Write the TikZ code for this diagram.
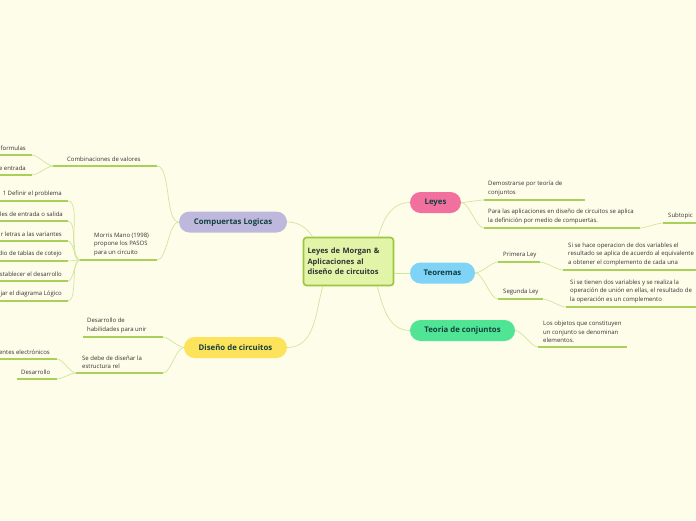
\documentclass[tikz,border=0pt]{standalone}
\usepackage{fontspec}
\setmainfont{Open Sans}
\usepackage{tikz}
\usetikzlibrary{calc}
\usepackage{xcolor}
\definecolor{paper}{HTML}{FEFDEA}
\definecolor{lingreen}{HTML}{D2E5A0}
\definecolor{ulgreen}{HTML}{A8D05A}
\definecolor{maingreen}{HTML}{9CC63F}
\definecolor{mainfill}{HTML}{E2F4A8}
\definecolor{maintext}{HTML}{333333}
\definecolor{pilltext}{HTML}{123F3F}
\definecolor{leaftext}{HTML}{333333}
\definecolor{cmpviolet}{HTML}{BEB8DC}
\definecolor{disyellow}{HTML}{FDE35B}
\definecolor{leypink}{HTML}{F2709E}
\definecolor{teoblue}{HTML}{7ED3F7}
\definecolor{conjgreen}{HTML}{50E594}
\tikzset{
    conn/.style={draw=lingreen, line width=0.7pt},
    uline/.style={draw=ulgreen, line width=1.5pt},
    pill/.style={rectangle, rounded corners=10.5pt, minimum height=21pt, inner sep=0pt,
        font=\fontsize{7.8}{9}\selectfont\bfseries, text=pilltext},
    leaf/.style={inner sep=0pt, align=left, font=\fontsize{6}{8.6}\selectfont, text=leaftext},
    rbranch/.style={out=0, in=180, looseness=0.6},
    lbranch/.style={out=180, in=0, looseness=0.6}
}

\begin{document}
\begin{tikzpicture}[x=1pt, y=-1pt]
    \fill[paper] (0,0) rectangle (696,520);
    \useasboundingbox (0,0) rectangle (696,520);

    % central topic and main branches
    \node[draw=maingreen, line width=1.6pt, fill=mainfill, rounded corners=3pt,
        minimum width=90pt, minimum height=48pt, inner sep=4pt, text width=82pt, align=left,
        font=\fontsize{7.5}{10.5}\selectfont\bfseries, text=maintext] (main) at (348.5,261.5)
        {Leyes de Morgan \&\\Aplicaciones al\\diseño de circuitos};
    \node[pill, fill=cmpviolet, minimum width=108pt] (cmp) at (233,222) {Compuertas Logicas};
    \node[pill, fill=disyellow, minimum width=103pt] (dis) at (235.5,347.5) {Diseño de circuitos};
    \node[pill, fill=leypink, minimum width=51pt] (ley) at (435.5,202.5) {Leyes};
    \node[pill, fill=teoblue, minimum width=65pt] (teo) at (442.5,273) {Teoremas};
    \node[pill, fill=conjgreen, minimum width=105pt] (conj) at (462.5,330.5) {Teoria de conjuntos};

    \draw[conn] (cmp.east) to[out=0, in=125] ($(main.north west)+(10,0)$);
    \draw[conn] ($(main.north east)+(-16,0)$) to[out=75, in=180] (ley.west);
    \draw[conn] (teo.west) -- (teo.west -| main.east);
    \draw[conn] ($(main.south east)+(-17,0)$) to[out=-75, in=180] (conj.west);
    \draw[conn] ($(main.south west)+(20,0)$) to[out=-105, in=0] (dis.east);

    % Leyes
    \coordinate (demL) at (484,200); \coordinate (demR) at (585,200);
    \coordinate (paraL) at (484,228); \coordinate (paraR) at (640,228);
    \coordinate (subL) at (663,223); \coordinate (subR) at (696,223);
    \draw[uline] (demL) -- (demR);
    \draw[uline] (paraL) -- (paraR);
    \draw[uline] (subL) -- (subR);
    \node[leaf, anchor=south west] (dem) at ($(demL)+(4,-4)$) {Demostrarse por teoría de\\conjuntos};
    \node[leaf, anchor=south west] (para) at ($(paraL)+(4,-4)$)
        {Para las aplicaciones en diseño de circuitos se aplica\\la definición por medio de compuertas.};
    \node[leaf, anchor=south west] (sub) at ($(subL)+(5,-4)$) {Subtopic};
    \draw[conn] (ley.east) to[rbranch] (demL);
    \draw[conn] (ley.east) to[rbranch] (paraL);
    \draw[conn] (paraR) to[rbranch] (subL);

    % Teoremas
    \coordinate (priL) at (498,262); \coordinate (priR) at (540,262);
    \coordinate (segL) at (498,299); \coordinate (segR) at (543,299);
    \coordinate (haceL) at (563,270); \coordinate (haceR) at (696,270);
    \coordinate (tienL) at (566,307); \coordinate (tienR) at (696,307);
    \draw[uline] (priL) -- (priR);
    \draw[uline] (segL) -- (segR);
    \draw[uline] (haceL) -- (haceR);
    \draw[uline] (tienL) -- (tienR);
    \node[leaf, anchor=south west] (pri) at ($(priL)+(5,-4)$) {Primera Ley};
    \node[leaf, anchor=south west] (seg) at ($(segL)+(5,-4)$) {Segunda Ley};
    \node[leaf, anchor=south west] (hace) at ($(haceL)+(5,-4)$)
        {Si se hace operacion de dos variables el\\resultado se aplica de acuerdo al equivalente\\a obtener el complemento de cada una};
    \node[leaf, anchor=south west] (tien) at ($(tienL)+(4,-4)$)
        {Si se tienen dos variables y se realiza la\\operación de unión en ellas, el resultado de\\la operación es un complemento};
    \draw[conn] (teo.east) to[rbranch] (priL);
    \draw[conn] (teo.east) to[rbranch] (segL);
    \draw[conn] (priR) to[rbranch] (haceL);
    \draw[conn] (segR) to[rbranch] (tienL);

    % Teoria de conjuntos
    \coordinate (objL) at (538,347); \coordinate (objR) at (627,347);
    \draw[uline] (objL) -- (objR);
    \node[leaf, anchor=south west] (obj) at ($(objL)+(5,-4)$)
        {Los objetos que constituyen\\un conjunto se denominan\\elementos.};
    \draw[conn] (conj.east) to[rbranch] (objL);

    % Compuertas Logicas
    \coordinate (combL) at (53,166); \coordinate (combR) at (157,166);
    \coordinate (formL) at (0,155); \coordinate (formR) at (32,155);
    \coordinate (entL) at (0,175); \coordinate (entR) at (32,175);
    \coordinate (morL) at (80,260); \coordinate (morR) at (157,260);
    \draw[uline] (combL) -- (combR);
    \draw[uline] (formL) -- (formR);
    \draw[uline] (entL) -- (entR);
    \draw[uline] (morL) -- (morR);
    \node[leaf, anchor=south west] (comb) at (67,162) {Combinaciones de valores};
    \node[leaf, anchor=south east] (form) at ($(formR)+(-6,-4)$) {formulas};
    \node[leaf, anchor=south east] (ent) at ($(entR)+(-6,-4)$) {e entrada};
    \node[leaf, anchor=south west] (mor) at ($(morL)+(14,-4)$) {Morris Mano (1998)\\propone los PASOS\\para un circuito};
    \draw[conn] (cmp.west) to[lbranch] (combR);
    \draw[conn] (cmp.west) to[lbranch] (morR);
    \draw[conn] (combL) to[lbranch] (formR);
    \draw[conn] (combL) to[lbranch] (entR);

    \coordinate (pa1L) at (0,201); \coordinate (pa1R) at (68,201);
    \coordinate (pa2L) at (0,221); \coordinate (pa2R) at (68,221);
    \coordinate (pa3L) at (0,241); \coordinate (pa3R) at (68,241);
    \coordinate (pa4L) at (0,261); \coordinate (pa4R) at (68,261);
    \coordinate (pa5L) at (0,281); \coordinate (pa5R) at (68,281);
    \coordinate (pa6L) at (0,301); \coordinate (pa6R) at (68,301);
    \draw[uline] (pa1L) -- (pa1R);
    \draw[uline] (pa2L) -- (pa2R);
    \draw[uline] (pa3L) -- (pa3R);
    \draw[uline] (pa4L) -- (pa4R);
    \draw[uline] (pa5L) -- (pa5R);
    \draw[uline] (pa6L) -- (pa6R);
    \node[leaf, anchor=south east] (pa1) at ($(pa1R)+(-6,-4)$) {1 Definir el problema};
    \node[leaf, anchor=south east] (pa2) at ($(pa2R)+(-5,-4)$) {les de entrada o salida};
    \node[leaf, anchor=south east] (pa3) at ($(pa3R)+(-6,-4)$) {r letras a las variantes};
    \node[leaf, anchor=south east] (pa4) at ($(pa4R)+(-6,-4)$) {dio de tablas de cotejo};
    \node[leaf, anchor=south east] (pa5) at ($(pa5R)+(-6,-4)$) {stablecer el desarrollo};
    \node[leaf, anchor=south east] (pa6) at ($(pa6R)+(-6,-4)$) {jar el diagrama Lógico};
    \draw[conn] (morL) to[lbranch] (pa1R);
    \draw[conn] (morL) to[lbranch] (pa2R);
    \draw[conn] (morL) to[lbranch] (pa3R);
    \draw[conn] (morL) to[lbranch] (pa4R);
    \draw[conn] (morL) to[lbranch] (pa5R);
    \draw[conn] (morL) to[lbranch] (pa6R);

    % Diseño de circuitos
    \coordinate (habL) at (83,337); \coordinate (habR) at (163,337);
    \coordinate (debeL) at (76,373); \coordinate (debeR) at (163,373);
    \coordinate (elecL) at (0,359); \coordinate (elecR) at (57,359);
    \coordinate (desaL) at (17,379); \coordinate (desaR) at (57,379);
    \draw[uline] (habL) -- (habR);
    \draw[uline] (debeL) -- (debeR);
    \draw[uline] (elecL) -- (elecR);
    \draw[uline] (desaL) -- (desaR);
    \node[leaf, anchor=south west] (hab) at ($(habL)+(4,-4)$) {Desarrollo de\\habilidades para unir};
    \node[leaf, anchor=south west] (debe) at ($(debeL)+(6,-4)$) {Se debe de diseñar la\\estructura rel};
    \node[leaf, anchor=south east] (elec) at ($(elecR)+(-7,-4)$) {entes electrónicos};
    \node[leaf, anchor=south west] (desa) at ($(desaL)+(4,-4)$) {Desarrollo};
    \draw[conn] (dis.west) to[lbranch] (habR);
    \draw[conn] (dis.west) to[lbranch] (debeR);
    \draw[conn] (debeL) to[lbranch] (elecR);
    \draw[conn] (debeL) to[lbranch] (desaR);
\end{tikzpicture}
\end{document}
